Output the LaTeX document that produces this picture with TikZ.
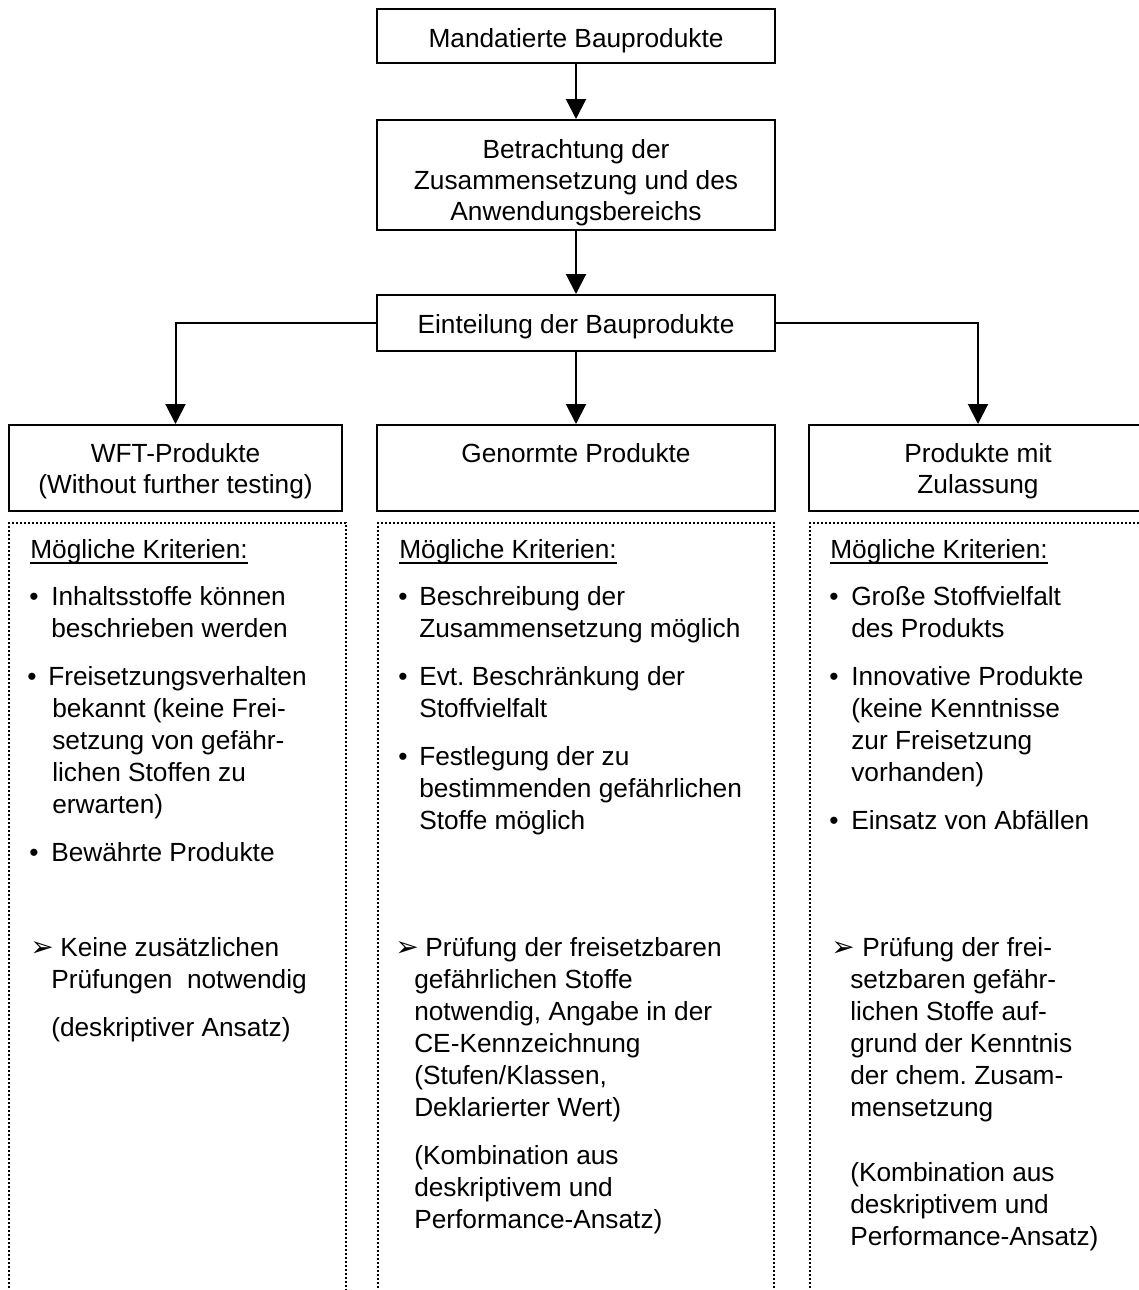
\documentclass[tikz,border=0pt]{standalone}
\usepackage{fontspec}
\setmainfont{Liberation Sans}
\newfontfamily\dejavu{DejaVu Sans}
\usetikzlibrary{arrows.meta}
\begin{document}
\frenchspacing
\begin{tikzpicture}[x=0.75pt,y=-0.75pt,
  box/.style={draw, line width=1.5pt, inner sep=0pt},
  txt/.style={inner sep=0pt, font=\fontsize{19.7pt}{24pt}\selectfont\frenchspacing, anchor=base},
  ltxt/.style={txt, anchor=base west},
  arrsym/.style={inner sep=0pt, anchor=base west, font=\dejavu\fontsize{21pt}{24pt}\selectfont},
  dotbox/.style={line width=1.8pt, dash pattern=on 1.5pt off 1.5pt},
  arr/.style={line width=1.5pt, -{Triangle[length=15pt,width=15pt]}},
  uline/.style={line width=1.6pt}]
\clip (0,0) rectangle (1139,1290);
\fill[white] (0,0) rectangle (1139,1290);

% boxes
\node[box, minimum width=298.5pt, minimum height=40.5pt] (b1) at (576,36) {};
\node[box, minimum width=298.5pt, minimum height=82.5pt] (b2) at (576,175) {};
\node[box, minimum width=298.5pt, minimum height=42pt] (b3) at (576,323) {};
\node[box, minimum width=249.75pt, minimum height=64.5pt] (w1) at (175.5,468) {};
\node[box, minimum width=298.5pt, minimum height=64.5pt] (w2) at (576,468) {};
\node[box, minimum width=253.5pt, minimum height=64.5pt] (w3) at (978,468) {};

% box texts
\node[txt] (t1) at (576,47) {Mandatierte Bauprodukte};
\node[txt] (t2a) at (576,158) {Betrachtung der};
\node[txt] (t2b) at (576,189) {Zusammensetzung und des};
\node[txt] (t2c) at (576,220) {Anwendungsbereichs};
\node[txt] (t3) at (576,333) {Einteilung der Bauprodukte};
\node[txt] (t4a) at (175.5,462) {WFT-Produkte};
\node[txt] (t4b) at (175.5,493) {(Without further testing)};
\node[txt] (t5) at (576,462) {Genormte Produkte};
\node[txt] (t6a) at (978,462) {Produkte mit};
\node[txt] (t6b) at (978,493) {Zulassung};

% connectors
\draw[arr] (b1.south) -- (b2.north);
\draw[arr] (b2.south) -- (b3.north);
\draw[arr] (b3.south) -- (w2.north);
\draw[arr] (b3.west) -| (w1.north);
\draw[arr] (b3.east) -| (w3.north);

% dotted boxes
\draw[dotbox] (9,1300) -- (9,523) -- (346,523) -- (346,1300);
\draw[dotbox] (378,1300) -- (378,523) -- (774,523) -- (774,1300);
\draw[dotbox] (810,1300) -- (810,523) -- (1150,523);

% headings
\node[ltxt] (mk1) at (30,558) {Mögliche Kriterien:};
\node[ltxt] (mk2) at (399,558) {Mögliche Kriterien:};
\node[ltxt] (mk3) at (830,558) {Mögliche Kriterien:};
\foreach \m in {mk1,mk2,mk3}
  \draw[uline] ([yshift=-3.6pt]\m.base west) -- ([yshift=-3.6pt]\m.base east);

% bullets
\foreach \xx/\yy in {29/605, 27/685, 29/861}
  \node[ltxt] (lb\yy) at (\xx,\yy) {•};
\foreach \xx/\yy in {398/605, 398/685, 398/765}
  \node[ltxt] (mb\yy) at (\xx,\yy) {•};
\foreach \xx/\yy in {829/605, 829/685, 829/829}
  \node[ltxt] (rb\yy) at (\xx,\yy) {•};

% arrow symbols
\node[arrsym] (la) at (30,956) {➢};
\node[arrsym] (ma) at (395,956) {➢};
\node[arrsym] (ra) at (831,956) {➢};

% left column
\foreach \xx/\yy/\lbl in {51/605/Inhaltsstoffe können, 51/637/beschrieben werden,
  48/685/Freisetzungsverhalten, 52/717/bekannt (keine Frei-, 52/749/setzung von gefähr-,
  52/781/lichen Stoffen zu, 52/813/erwarten), 51/861/Bewährte Produkte,
  60/956/Keine zusätzlichen, 51/988/{Prüfungen~ notwendig}, 51/1036/(deskriptiver Ansatz)}
  \node[ltxt] (l\yy) at (\xx,\yy) {\lbl};

% middle column
\foreach \xx/\yy/\lbl in {419/605/Beschreibung der, 419/637/Zusammensetzung möglich,
  419/685/Evt. Beschränkung der, 419/717/Stoffvielfalt, 419/765/Festlegung der zu,
  419/797/bestimmenden gefährlichen, 419/829/Stoffe möglich,
  425/956/Prüfung der freisetzbaren, 414/988/gefährlichen Stoffe,
  414/1020/{notwendig, Angabe in der}, 414/1052/CE-Kennzeichnung,
  414/1084/{(Stufen/Klassen,}, 414/1116/Deklarierter Wert),
  414/1164/(Kombination aus, 414/1196/deskriptivem und, 414/1228/Performance-Ansatz)}
  \node[ltxt] (m\yy) at (\xx,\yy) {\lbl};

% right column
\foreach \xx/\yy/\lbl in {851/605/Große Stoffvielfalt, 851/637/des Produkts,
  851/685/Innovative Produkte, 851/717/(keine Kenntnisse, 851/749/zur Freisetzung,
  851/781/vorhanden), 851/829/Einsatz von Abfällen,
  862/956/Prüfung der frei-, 850/988/setzbaren gefähr-, 850/1020/lichen Stoffe auf-,
  850/1052/grund der Kenntnis, 850/1084/der chem. Zusam-, 850/1116/mensetzung,
  850/1181/(Kombination aus, 850/1213/deskriptivem und, 850/1245/Performance-Ansatz)}
  \node[ltxt] (r\yy) at (\xx,\yy) {\lbl};
\end{tikzpicture}
\end{document}
